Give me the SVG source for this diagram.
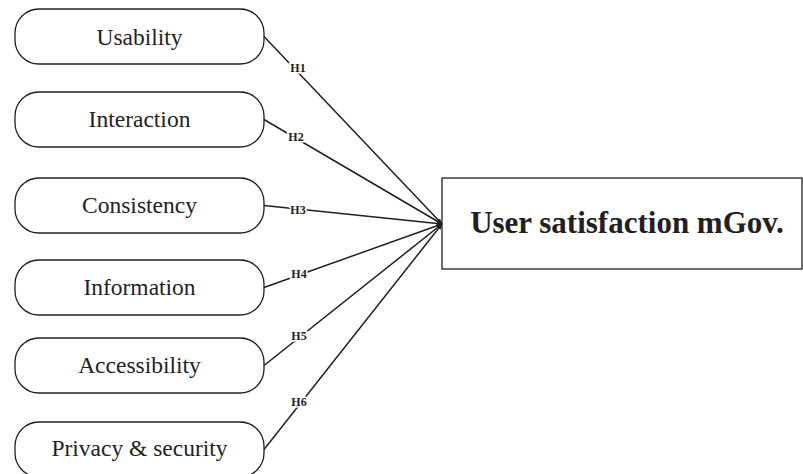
<svg xmlns="http://www.w3.org/2000/svg" width="803" height="474" viewBox="0 0 803 474">
  <style>
    .node rect { fill: #fff; stroke: #231f20; stroke-width: 1.3; }
    .node text { font-family: "Liberation Serif", "Times New Roman", serif; font-size: 23.5px; fill: #231f20; text-anchor: middle; }
    .edge { stroke: #231f20; stroke-width: 1.5; fill: none; marker-end: url(#arrow); }
    .hlabel { font-family: "Liberation Serif", "Times New Roman", serif; font-size: 12px; font-weight: bold; fill: #231f20; text-anchor: middle; stroke: #fff; stroke-width: 3px; paint-order: stroke; }
    .target rect { fill: #fff; stroke: #231f20; stroke-width: 1.3; }
    .target text { font-family: "Liberation Serif", "Times New Roman", serif; font-size: 31px; font-weight: bold; fill: #231f20; text-anchor: middle; }
  </style>
  <defs>
    <marker id="arrow" viewBox="0 0 10 10" refX="9" refY="5" markerWidth="6" markerHeight="6" orient="auto" markerUnits="userSpaceOnUse">
      <path d="M0,1 L10,5 L0,9 Z" fill="#231f20"/>
    </marker>
  </defs>

  <rect width="803" height="474" fill="#fff"/>

  <!-- connectors from each construct to the outcome box -->
  <g id="connectors">
    <line class="edge" x1="264" y1="36.5" x2="442" y2="224"/>
    <line class="edge" x1="264" y1="119.5" x2="442" y2="224"/>
    <line class="edge" x1="264" y1="205.5" x2="442" y2="224"/>
    <line class="edge" x1="264" y1="287.5" x2="442" y2="224"/>
    <line class="edge" x1="264" y1="365.5" x2="442" y2="224"/>
    <line class="edge" x1="264" y1="449.5" x2="442" y2="224"/>
    <text class="hlabel" x="298" y="72">H1</text>
    <text class="hlabel" x="296" y="141">H2</text>
    <text class="hlabel" x="298" y="214">H3</text>
    <text class="hlabel" x="299" y="278">H4</text>
    <text class="hlabel" x="299" y="340">H5</text>
    <text class="hlabel" x="299" y="406">H6</text>
  </g>

  <g id="usability" class="node">
    <rect x="15" y="9" width="249" height="55" rx="24" ry="24"/>
    <text x="139.5" y="44.5">Usability</text>
  </g>
  <g id="interaction" class="node">
    <rect x="15" y="92" width="249" height="55" rx="24" ry="24"/>
    <text x="139.5" y="127">Interaction</text>
  </g>
  <g id="consistency" class="node">
    <rect x="15" y="178" width="249" height="55" rx="24" ry="24"/>
    <text x="139.5" y="213">Consistency</text>
  </g>
  <g id="information" class="node">
    <rect x="15" y="260" width="249" height="55" rx="24" ry="24"/>
    <text x="139.5" y="295">Information</text>
  </g>
  <g id="accessibility" class="node">
    <rect x="15" y="338" width="249" height="55" rx="24" ry="24"/>
    <text x="139.5" y="373">Accessibility</text>
  </g>
  <g id="privacy" class="node">
    <rect x="15" y="422" width="249" height="55" rx="24" ry="24"/>
    <text x="139.5" y="455.5">Privacy &amp; security</text>
  </g>

  <g id="user-satisfaction" class="target">
    <rect x="442" y="178" width="360" height="91"/>
    <text x="627" y="233">User satisfaction mGov.</text>
  </g>
</svg>
